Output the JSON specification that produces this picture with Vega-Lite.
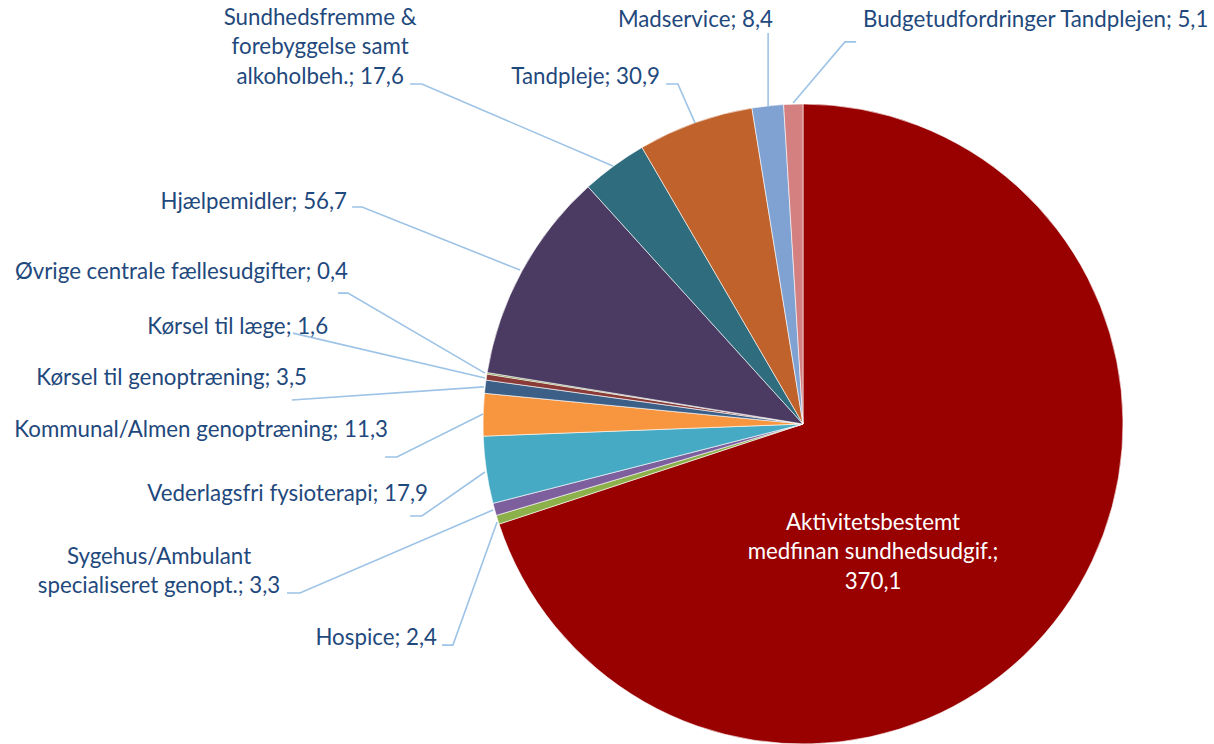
{
  "$schema": "https://vega.github.io/schema/vega-lite/v6.json",
  "width": 1214,
  "height": 744,
  "padding": 0,
  "autosize": {"type": "none"},
  "background": "white",
  "config": {"view": {"stroke": null}, "text": {"font": "Lato", "fontSize": 22.3}},
  "datasets": {
    "slices": [
      {"idx": 1, "name": "Aktivitetsbestemt medfinan sundhedsudgif.", "value": 370.1, "label": "Aktivitetsbestemt\nmedfinan sundhedsudgif.;\n370,1", "lx": 0.219, "ly": -0.309, "side": "inside"},
      {"idx": 2, "name": "Hospice", "value": 2.4, "label": "Hospice; 2,4", "lx": -1.144, "ly": -0.669, "side": "right"},
      {"idx": 3, "name": "Sygehus/Ambulant specialiseret genopt.", "value": 3.3, "label": "Sygehus/Ambulant\nspecialiseret genopt.; 3,3", "lx": -2.0125, "ly": -0.4156, "side": "center"},
      {"idx": 4, "name": "Vederlagsfri fysioterapi", "value": 17.9, "label": "Vederlagsfri fysioterapi; 17,9", "lx": -1.172, "ly": -0.219, "side": "right"},
      {"idx": 5, "name": "Kommunal/Almen genoptræning", "value": 11.3, "label": "Kommunal/Almen genoptræning; 11,3", "lx": -1.297, "ly": -0.019, "side": "right"},
      {"idx": 6, "name": "Kørsel til genoptræning", "value": 3.5, "label": "Kørsel til genoptræning; 3,5", "lx": -1.55, "ly": 0.144, "side": "right"},
      {"idx": 7, "name": "Kørsel til læge", "value": 1.6, "label": "Kørsel til læge; 1,6", "lx": -1.484, "ly": 0.303, "side": "right"},
      {"idx": 8, "name": "Øvrige centrale fællesudgifter", "value": 0.4, "label": "Øvrige centrale fællesudgifter; 0,4", "lx": -1.422, "ly": 0.475, "side": "right"},
      {"idx": 9, "name": "Hjælpemidler", "value": 56.7, "label": "Hjælpemidler; 56,7", "lx": -1.425, "ly": 0.694, "side": "right"},
      {"idx": 10, "name": "Sundhedsfremme & forebyggelse samt alkoholbeh.", "value": 17.6, "label": "Sundhedsfremme &\nforebyggelse samt\nalkoholbeh.; 17,6", "lx": -1.509, "ly": 1.269, "side": "center"},
      {"idx": 11, "name": "Tandpleje", "value": 30.9, "label": "Tandpleje; 30,9", "lx": -0.447, "ly": 1.084, "side": "right"},
      {"idx": 12, "name": "Madservice", "value": 8.4, "label": "Madservice; 8,4", "lx": -0.094, "ly": 1.2625, "side": "right"},
      {"idx": 13, "name": "Budgetudfordringer Tandplejen", "value": 5.1, "label": "Budgetudfordringer Tandplejen; 5,1", "lx": 0.1875, "ly": 1.2625, "side": "left"}
    ],
    "leaders": [
      {"name": "Sundhedsfremme", "i": 1, "x": -1.228, "y": 1.0625},
      {"name": "Sundhedsfremme", "i": 2, "x": -1.191, "y": 1.0625},
      {"name": "Sundhedsfremme", "i": 3, "x": -0.594, "y": 0.806},
      {"name": "Tandpleje", "i": 1, "x": -0.428, "y": 1.0625},
      {"name": "Tandpleje", "i": 2, "x": -0.391, "y": 1.0625},
      {"name": "Tandpleje", "i": 3, "x": -0.3375, "y": 0.941},
      {"name": "Madservice", "i": 1, "x": -0.109, "y": 1.222},
      {"name": "Madservice", "i": 2, "x": -0.109, "y": 0.991},
      {"name": "Budget", "i": 1, "x": 0.166, "y": 1.194},
      {"name": "Budget", "i": 2, "x": 0.131, "y": 1.194},
      {"name": "Budget", "i": 3, "x": -0.031, "y": 1.003},
      {"name": "Hjælpemidler", "i": 1, "x": -1.409, "y": 0.678},
      {"name": "Hjælpemidler", "i": 2, "x": -1.378, "y": 0.678},
      {"name": "Hjælpemidler", "i": 3, "x": -0.884, "y": 0.481},
      {"name": "Øvrige", "i": 1, "x": -1.453, "y": 0.409},
      {"name": "Øvrige", "i": 2, "x": -1.422, "y": 0.409},
      {"name": "Øvrige", "i": 3, "x": -0.994, "y": 0.159},
      {"name": "KørselLæge", "i": 1, "x": -1.594, "y": 0.284},
      {"name": "KørselLæge", "i": 2, "x": -0.994, "y": 0.144},
      {"name": "KørselGenopt", "i": 1, "x": -1.597, "y": 0.075},
      {"name": "KørselGenopt", "i": 2, "x": -0.997, "y": 0.116},
      {"name": "Kommunal", "i": 1, "x": -1.306, "y": -0.103},
      {"name": "Kommunal", "i": 2, "x": -1.269, "y": -0.103},
      {"name": "Kommunal", "i": 3, "x": -1.0, "y": 0.031},
      {"name": "Vederlagsfri", "i": 1, "x": -1.228, "y": -0.2875},
      {"name": "Vederlagsfri", "i": 2, "x": -1.191, "y": -0.2875},
      {"name": "Vederlagsfri", "i": 3, "x": -0.994, "y": -0.15},
      {"name": "Sygehus", "i": 1, "x": -1.6125, "y": -0.528},
      {"name": "Sygehus", "i": 2, "x": -1.572, "y": -0.528},
      {"name": "Sygehus", "i": 3, "x": -0.969, "y": -0.269},
      {"name": "Hospice", "i": 1, "x": -1.128, "y": -0.691},
      {"name": "Hospice", "i": 2, "x": -1.094, "y": -0.691},
      {"name": "Hospice", "i": 3, "x": -0.956, "y": -0.306}
    ]
  },
  "layer": [
    {
      "data": {"name": "slices"},
      "mark": {"type": "arc", "outerRadius": 320, "stroke": "#ffffff", "strokeWidth": 0.6},
      "encoding": {
        "theta": {"field": "value", "type": "quantitative", "stack": true},
        "order": {"field": "idx", "type": "quantitative"},
        "color": {
          "field": "name", "type": "nominal", "legend": null,
          "scale": {
            "domain": ["Aktivitetsbestemt medfinan sundhedsudgif.", "Hospice", "Sygehus/Ambulant specialiseret genopt.", "Vederlagsfri fysioterapi", "Kommunal/Almen genoptræning", "Kørsel til genoptræning", "Kørsel til læge", "Øvrige centrale fællesudgifter", "Hjælpemidler", "Sundhedsfremme & forebyggelse samt alkoholbeh.", "Tandpleje", "Madservice", "Budgetudfordringer Tandplejen"],
            "range": ["#990000", "#8CB04A", "#7E5F9E", "#46AAC4", "#F7963F", "#3C5F87", "#8A3B38", "#77933C", "#4B3A62", "#2F6D7E", "#C0622B", "#7FA2D2", "#D47F80"]
          }
        },
        "x": {"datum": 0, "type": "quantitative", "scale": {"domain": [-2.509375, 1.284375], "nice": false, "zero": false}, "axis": null},
        "y": {"datum": 0, "type": "quantitative", "scale": {"domain": [-1, 1.325], "nice": false, "zero": false}, "axis": null}
      }
    },
    {
      "data": {"name": "leaders"},
      "mark": {"type": "line", "stroke": "#9DC3E6", "strokeWidth": 1.6},
      "encoding": {
        "x": {"field": "x", "type": "quantitative", "scale": {"domain": [-2.509375, 1.284375], "nice": false, "zero": false}, "axis": null},
        "y": {"field": "y", "type": "quantitative", "scale": {"domain": [-1, 1.325], "nice": false, "zero": false}, "axis": null},
        "detail": {"field": "name"},
        "order": {"field": "i", "type": "quantitative"}
      }
    },
    {
      "data": {"name": "slices"},
      "transform": [{"filter": "datum.side === 'right'"}],
      "mark": {"type": "text", "align": "right", "baseline": "middle", "color": "#1F497D", "lineBreak": "\n"},
      "encoding": {
        "x": {"field": "lx", "type": "quantitative", "scale": {"domain": [-2.509375, 1.284375], "nice": false, "zero": false}, "axis": null},
        "y": {"field": "ly", "type": "quantitative", "scale": {"domain": [-1, 1.325], "nice": false, "zero": false}, "axis": null},
        "text": {"field": "label"}
      }
    },
    {
      "data": {"name": "slices"},
      "transform": [{"filter": "datum.side === 'left'"}],
      "mark": {"type": "text", "align": "left", "baseline": "middle", "color": "#1F497D", "lineBreak": "\n"},
      "encoding": {
        "x": {"field": "lx", "type": "quantitative", "scale": {"domain": [-2.509375, 1.284375], "nice": false, "zero": false}, "axis": null},
        "y": {"field": "ly", "type": "quantitative", "scale": {"domain": [-1, 1.325], "nice": false, "zero": false}, "axis": null},
        "text": {"field": "label"}
      }
    },
    {
      "data": {"name": "slices"},
      "transform": [{"filter": "datum.side === 'center'"}],
      "mark": {"type": "text", "align": "center", "baseline": "middle", "color": "#1F497D", "lineBreak": "\n", "lineHeight": 29.5},
      "encoding": {
        "x": {"field": "lx", "type": "quantitative", "scale": {"domain": [-2.509375, 1.284375], "nice": false, "zero": false}, "axis": null},
        "y": {"field": "ly", "type": "quantitative", "scale": {"domain": [-1, 1.325], "nice": false, "zero": false}, "axis": null},
        "text": {"field": "label"}
      }
    },
    {
      "data": {"name": "slices"},
      "transform": [{"filter": "datum.side === 'inside'"}],
      "mark": {"type": "text", "align": "center", "baseline": "middle", "color": "#ffffff", "lineBreak": "\n", "lineHeight": 29.5},
      "encoding": {
        "x": {"field": "lx", "type": "quantitative", "scale": {"domain": [-2.509375, 1.284375], "nice": false, "zero": false}, "axis": null},
        "y": {"field": "ly", "type": "quantitative", "scale": {"domain": [-1, 1.325], "nice": false, "zero": false}, "axis": null},
        "text": {"field": "label"}
      }
    }
  ]
}
